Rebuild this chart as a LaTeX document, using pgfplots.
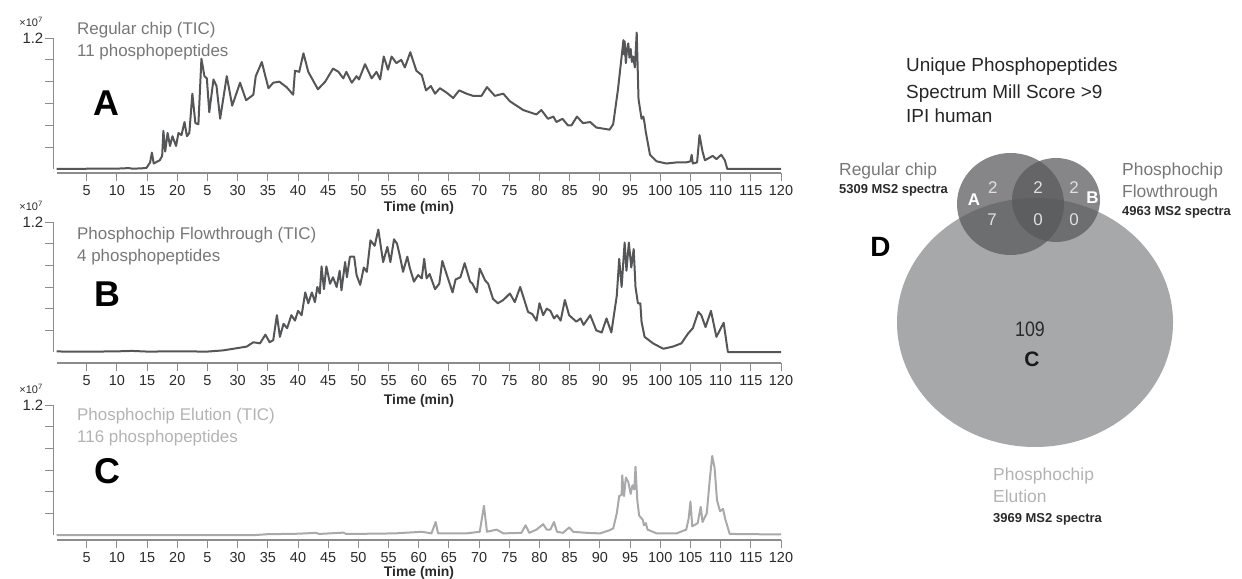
\documentclass[border=0pt]{standalone}
\usepackage{pgfplots}
\pgfplotsset{compat=1.18}
\usepackage{fontspec}
\setmainfont{Liberation Sans}
\usepackage{graphicx}
\definecolor{trace}{HTML}{555658}
\definecolor{tracelight}{HTML}{A9A9AB}
\definecolor{axgray}{HTML}{8C8C8C}
\definecolor{labgray}{HTML}{777777}
\definecolor{lablight}{HTML}{B3B3B3}
\definecolor{txtdark}{HTML}{2A2A2A}
\definecolor{vennbig}{HTML}{A7A8AA}
\definecolor{vennsmall}{HTML}{58585A}
\newcommand{\fs}[1]{\fontsize{#1}{#1}\selectfont}
\pgfplotsset{
  chrom/.style={
    scale only axis, width=727.5bp, xmin=-0.5, xmax=120, ymax=1.2,
    axis x line*=bottom, axis y line*=left,
    axis line style={draw=axgray, line width=1.1bp},
    tick align=outside, major tick length=8bp,
    tick style={draw=axgray, line width=1bp},
    xtick={5,10,...,120},
    xticklabels={5,10,15,20,5,30,35,40,45,50,55,60,65,70,75,80,85,90,95,100,105,110,115,120},
    ytick={0.2,0.4,0.6,0.8,1,1.2}, yticklabels={,,,,,1.2},
    xticklabel style={font=\fs{14.5}, text=txtdark, inner sep=1bp, yshift=-3bp},
    yticklabel style={font=\fs{15}, text=txtdark, inner sep=2bp},
    clip=false, anchor=south west,
  }
}
\begin{document}
\begin{tikzpicture}
\path[use as bounding box] (0,0) rectangle (1242bp,-579bp);
% ---------- Panel A ----------
\begin{axis}[chrom, ymin=-0.037, height=135bp, at={(53.5bp,-173bp)},
  x axis line style={-, shorten <=3bp}, y axis line style={-, shorten <=4bp}]
\addplot[trace, line width=2bp, line join=round] coordinates {
(0,0) (5,0.002) (10,0.003) (12,0.008) (12.5,0.003) (14,0.005) (14.9,0.01) (15.5,0.06) (15.8,0.15) (16.1,0.05) (17.1,0.08) (17.5,0.12) (17.7,0.35) (18.0,0.16) (18.4,0.33) (18.8,0.21) (19.2,0.30) (19.8,0.21) (20.2,0.33) (20.7,0.31) (21.2,0.43) (21.6,0.30) (22.0,0.33) (22.5,0.69) (23.0,0.42) (23.5,0.41) (24.0,1.01) (24.5,0.85) (24.9,0.83) (25.3,0.52) (26.0,0.82) (26.5,0.76) (27.1,0.46) (28.2,0.85) (29.1,0.58) (30.4,0.79) (31.4,0.63) (32.6,0.68) (33.0,0.85) (34.0,0.98) (35.1,0.74) (35.9,0.79) (36.9,0.80) (38.1,0.75) (39.2,0.68) (39.5,0.90) (40.2,0.89) (40.9,1.06) (41.7,0.89) (43.3,0.73) (44.5,0.80) (45.8,0.92) (46.7,0.89) (47.5,0.83) (48.0,0.89) (48.9,0.79) (49.7,0.85) (50.1,0.82) (51.1,0.96) (52.2,0.83) (53.0,0.89) (53.6,0.82) (54.2,1.03) (54.9,0.91) (55.5,1.03) (56.3,0.97) (57.1,1.00) (57.7,0.93) (58.6,1.07) (59.6,0.90) (60.5,0.86) (61.2,0.72) (62.0,0.76) (62.7,0.69) (63.5,0.74) (64.6,0.70) (65.7,0.65) (66.7,0.72) (67.9,0.69) (69.0,0.67) (70.4,0.67) (71.3,0.75) (72.6,0.67) (74.0,0.69) (75.1,0.62) (77.3,0.54) (78.9,0.51) (79.5,0.50) (80.3,0.54) (81.4,0.46) (82.3,0.48) (82.8,0.43) (83.8,0.46) (84.7,0.40) (85.3,0.40) (86.2,0.48) (87.2,0.42) (88.4,0.43) (89.4,0.38) (91.6,0.36) (92.2,0.41) (93.0,0.73) (93.9,1.18) (94.0,1.05) (94.1,1.17) (94.3,0.97) (94.5,1.10) (94.7,1.15) (94.9,1.02) (95.1,1.10) (95.3,0.98) (95.5,1.03) (95.8,0.93) (96.1,1.25) (96.4,0.64) (96.9,0.46) (97.2,0.48) (97.4,0.42) (97.6,0.34) (98.3,0.13) (99.4,0.07) (101.0,0.05) (102.7,0.06) (104.3,0.06) (105.0,0.07) (105.2,0.13) (105.4,0.05) (106.1,0.06) (106.5,0.31) (107.0,0.16) (107.4,0.08) (108.7,0.12) (109.3,0.09) (110.1,0.13) (110.7,0.08) (111.1,0.0) (120,0.0)
};
\end{axis}
% ---------- Panel B ----------
\begin{axis}[chrom, ymin=-0.1015, height=141bp, at={(53.5bp,-363bp)},
  x axis line style={-, shorten <=3bp}, y axis line style={-, shorten <=11bp}]
\addplot[trace, line width=2bp, line join=round] coordinates {
(0,0.005) (5,0.003) (10,0.006) (12.5,0.01) (15,0.004) (20,0.006) (25,0.004) (27.6,0.015) (29.3,0.03) (31.5,0.05) (32.6,0.09) (33.7,0.08) (34.6,0.16) (35.3,0.09) (35.9,0.11) (36.5,0.34) (37.0,0.14) (37.6,0.26) (38.2,0.22) (38.9,0.34) (39.5,0.29) (40.0,0.38) (40.6,0.34) (41.2,0.55) (41.7,0.45) (42.3,0.55) (42.8,0.46) (43.2,0.60) (43.6,0.54) (43.9,0.79) (44.3,0.58) (44.7,0.79) (45.3,0.63) (45.8,0.69) (46.4,0.60) (46.9,0.75) (47.2,0.57) (47.8,0.83) (48.1,0.69) (48.6,0.88) (49.3,0.88) (49.7,0.71) (50.3,0.62) (50.9,0.78) (51.4,0.74) (52.0,1.03) (52.7,0.98) (53.3,1.13) (54.1,0.83) (54.8,0.97) (55.3,0.83) (55.9,1.04) (56.4,1.00) (56.9,0.88) (57.4,0.74) (58.1,0.88) (58.5,0.78) (59.2,0.65) (59.9,0.71) (60.5,0.68) (60.9,0.86) (61.3,0.68) (61.8,0.72) (62.7,0.58) (63.4,0.63) (63.9,0.84) (64.6,0.72) (65.6,0.55) (66.1,0.67) (66.9,0.69) (67.6,0.82) (68.5,0.65) (68.9,0.63) (69.6,0.55) (70.1,0.77) (71.0,0.66) (71.5,0.63) (72.3,0.49) (73.1,0.45) (74.0,0.48) (75.1,0.54) (75.9,0.46) (76.8,0.60) (77.6,0.46) (78.1,0.37) (78.8,0.35) (79.5,0.29) (80.0,0.45) (80.6,0.34) (81.2,0.40) (81.8,0.38) (82.4,0.31) (82.9,0.34) (83.5,0.29) (84.2,0.48) (84.9,0.34) (86.1,0.28) (86.8,0.31) (87.3,0.25) (88.4,0.34) (89.4,0.20) (90.3,0.18) (91.1,0.31) (91.9,0.18) (92.8,0.52) (93.2,0.86) (93.6,0.60) (94.1,1.01) (94.4,0.75) (94.8,1.01) (95.2,0.78) (95.6,0.95) (95.9,0.60) (96.3,0.45) (96.7,0.45) (96.9,0.28) (97.4,0.14) (98.8,0.08) (100.5,0.03) (102.1,0.05) (103.5,0.08) (104.6,0.17) (105.4,0.22) (106.3,0.37) (106.8,0.34) (107.5,0.23) (108.4,0.38) (109.3,0.14) (110.5,0.27) (111.2,0.0) (120,0.0)
};
\end{axis}
% ---------- Panel C ----------
\begin{axis}[chrom, ymin=-0.046, height=135bp, at={(53.5bp,-540bp)},
  x axis line style={-, shorten <=3bp}, y axis line style={-, shorten <=5bp}]
\addplot[tracelight, line width=2bp, line join=round] coordinates {
(0,0) (33,0.0) (35,0.008) (38,0.01) (40,0.012) (43,0.02) (43.5,0.01) (47.5,0.022) (48,0.01) (52,0.012) (56,0.015) (60.5,0.03) (62.1,0.015) (62.8,0.12) (63.2,0.015) (67.9,0.015) (70.1,0.03) (70.8,0.27) (71.3,0.03) (72.9,0.05) (74.0,0.015) (77.0,0.02) (77.7,0.09) (78.3,0.02) (79.5,0.05) (80.6,0.10) (81.2,0.05) (81.8,0.05) (82.4,0.12) (82.9,0.03) (83.9,0.02) (84.9,0.07) (85.6,0.03) (87.8,0.02) (90.0,0.015) (91.4,0.04) (92.2,0.06) (92.8,0.20) (93.2,0.36) (93.6,0.37) (93.7,0.55) (94.0,0.36) (94.3,0.53) (94.7,0.49) (95.1,0.38) (95.4,0.46) (95.7,0.42) (95.9,0.63) (96.2,0.32) (96.5,0.18) (97.1,0.14) (97.3,0.09) (97.6,0.11) (97.9,0.05) (99.4,0.015) (102.7,0.015) (104.3,0.05) (104.7,0.15) (105.0,0.31) (105.3,0.08) (106.2,0.11) (106.7,0.26) (107.0,0.12) (107.7,0.20) (108.2,0.51) (108.6,0.73) (109.0,0.62) (109.4,0.32) (109.9,0.22) (110.4,0.24) (110.8,0.14) (111.5,0.01) (120,0.005)
};
\end{axis}
% ---------- Venn ----------
\begin{axis}[hide axis, scale only axis, width=422bp, height=539bp,
  xmin=820, xmax=1242, ymin=-579, ymax=-40, anchor=south west, at={(820bp,-579bp)}, clip=false]
\addplot[draw=none] coordinates {(1035,-322.5)};
\fill[vennbig] (axis cs:1035,-322.5) ellipse [x radius=138, y radius=124.5];
\fill[vennsmall, fill opacity=0.72] (axis cs:1010.5,-204) ellipse [x radius=53.5, y radius=51];
\fill[vennsmall, fill opacity=0.72] (axis cs:1056,-200) ellipse [x radius=44, y radius=42];
\end{axis}
% ---------- Texts, chromatograms ----------
\foreach \yy in {26.7, 210.7, 393.7}{
  \node[anchor=base east, inner sep=0, text=txtdark, font=\fs{11}] at (43bp,-\yy bp) {×10\textsuperscript{7}};
}
\node[anchor=base west, inner sep=0, text=labgray, font=\fs{17}] at (77bp,-34bp) {Regular chip (TIC)};
\node[anchor=base west, inner sep=0, text=labgray, font=\fs{17}] at (77bp,-56bp) {11 phosphopeptides};
\node[anchor=base west, inner sep=0, text=labgray, font=\fs{17}] at (77bp,-239.3bp) {Phosphochip Flowthrough (TIC)};
\node[anchor=base west, inner sep=0, text=labgray, font=\fs{17}] at (77bp,-261bp) {4 phosphopeptides};
\node[anchor=base west, inner sep=0, text=lablight, font=\fs{17}] at (77bp,-420.7bp) {Phosphochip Elution (TIC)};
\node[anchor=base west, inner sep=0, text=lablight, font=\fs{17}] at (77bp,-442.3bp) {116 phosphopeptides};
\node[anchor=base, inner sep=0, font=\fs{36}\bfseries] at (106bp,-115bp) {A};
\node[anchor=base, inner sep=0, font=\fs{36}\bfseries] at (107bp,-306.7bp) {B};
\node[anchor=base, inner sep=0, font=\fs{36}\bfseries] at (107bp,-483.3bp) {C};
\foreach \yy in {208,401,573}{
  \node[inner sep=0, text=txtdark, font=\fs{14}\bfseries] at (419bp,-\yy bp) {Time (min)};
}
% ---------- Texts, Venn ----------
\node[anchor=base west, inner sep=0, text=black!85, font=\fs{19}] at (906bp,-71.7bp) {Unique Phosphopeptides};
\node[anchor=base west, inner sep=0, text=black!85, font=\fs{19}] at (906bp,-98.3bp) {Spectrum Mill Score >9};
\node[anchor=base west, inner sep=0, text=black!85, font=\fs{19}] at (906bp,-122.7bp) {IPI human};
\node[anchor=base west, inner sep=0, text=labgray, font=\fs{17.5}] at (839bp,-175bp) {Regular chip};
\node[anchor=base west, inner sep=0, text=txtdark, font=\fs{13}\bfseries] at (839bp,-193bp) {5309 MS2 spectra};
\node[anchor=base west, inner sep=0, text=labgray, font=\fs{17.5}] at (1122bp,-175bp) {Phosphochip};
\node[anchor=base west, inner sep=0, text=labgray, font=\fs{17.5}] at (1122bp,-197bp) {Flowthrough};
\node[anchor=base west, inner sep=0, text=txtdark, font=\fs{13}\bfseries] at (1122bp,-215bp) {4963 MS2 spectra};
\node[anchor=base west, inner sep=0, text=lablight, font=\fs{17.5}] at (993bp,-480bp) {Phosphochip};
\node[anchor=base west, inner sep=0, text=lablight, font=\fs{17.5}] at (993bp,-502bp) {Elution};
\node[anchor=base west, inner sep=0, text=txtdark, font=\fs{13}\bfseries] at (993bp,-522bp) {3969 MS2 spectra};
\foreach \xx/\yy/\tt in {992.7/193.3/2, 1038/193.3/2, 1074/193.3/2, 992/225/7, 1038/225/0, 1074/225/0}{
  \node[anchor=base, inner sep=0, text=black!12, font=\fs{17}] at (\xx bp,-\yy bp) {\tt};
}
\node[anchor=base, inner sep=0, text=white, font=\fs{17}\bfseries] at (974bp,-205.7bp) {A};
\node[anchor=base, inner sep=0, text=white, font=\fs{17}\bfseries] at (1092.5bp,-203bp) {B};
\node[anchor=base, inner sep=0, font=\fs{28}\bfseries] at (880.5bp,-256bp) {D};
\node[anchor=base, inner sep=0, text=txtdark, font=\fs{21}] at (1030bp,-336.7bp) {\scalebox{0.85}[1]{109}};
\node[anchor=base, inner sep=0, text=black!90, font=\fs{21}\bfseries] at (1032bp,-366.7bp) {C};
\end{tikzpicture}
\end{document}
